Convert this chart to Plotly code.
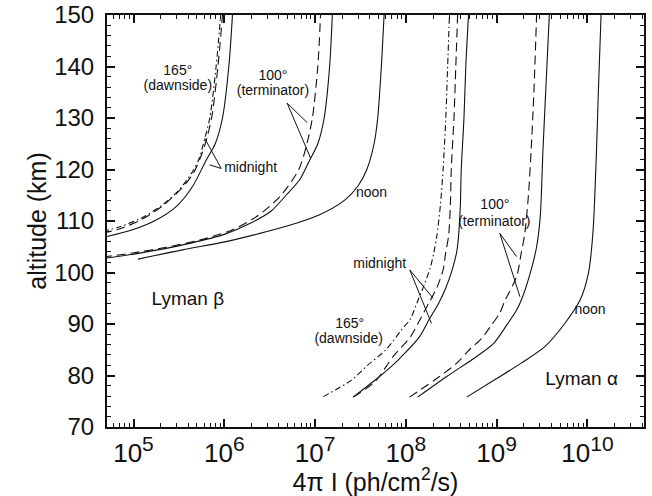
import plotly.graph_objects as go

# ---------------- data (altitude km, log10 of 4*pi*I) ----------------
# Lyman beta
b165_alt = [108.0, 108.9, 110.5, 113.0, 116.0, 119.3, 122.0, 125.0, 130.0, 140.0, 150.0]
b165_lgI = [4.66, 4.85, 5.08, 5.31, 5.50, 5.64, 5.72, 5.77, 5.84, 5.91, 5.96]
bmidA_alt = [107.6, 108.5, 110.2, 112.8, 115.8, 119.0, 122.0, 125.0, 130.0, 140.0, 150.0]
bmidA_lgI = [4.66, 4.85, 5.08, 5.31, 5.50, 5.65, 5.73, 5.79, 5.86, 5.93, 5.98]
bmidB_alt = [106.8, 108.3, 110.2, 112.8, 116.7, 121.8, 125.0, 130.0, 140.0, 150.0]
bmidB_lgI = [4.66, 4.99, 5.25, 5.47, 5.65, 5.80, 5.90, 5.98, 6.05, 6.09]
bterA_alt = [103.0, 103.8, 104.9, 106.3, 108.3, 110.8, 114.7, 120.0, 125.0, 130.0, 140.0, 150.0]
bterA_lgI = [4.66, 4.99, 5.36, 5.73, 6.09, 6.35, 6.61, 6.82, 6.91, 6.97, 7.03, 7.06]
bterB_alt = [102.7, 103.3, 104.4, 105.7, 107.4, 109.5, 112.0, 115.0, 118.0, 121.8, 125.0, 130.0, 140.0, 150.0]
bterB_lgI = [4.66, 4.90, 5.27, 5.63, 6.00, 6.28, 6.52, 6.68, 6.83, 6.94, 7.03, 7.10, 7.16, 7.19]
bnoon_alt = [102.6, 104.4, 106.0, 107.9, 109.6, 111.2, 114.1, 117.0, 120.0, 125.0, 130.0, 140.0, 150.0]
bnoon_lgI = [5.05, 5.54, 6.02, 6.46, 6.80, 7.05, 7.33, 7.48, 7.57, 7.65, 7.69, 7.73, 7.76]

# Lyman alpha
a165_alt = [75.9, 79.1, 82.0, 85.0, 88.8, 91.0, 94.0, 97.5, 101.0, 104.0, 107.0, 113.0, 120.0, 130.0, 140.0, 150.0]
a165_lgI = [7.09, 7.40, 7.58, 7.78, 7.95, 8.05, 8.12, 8.20, 8.27, 8.31, 8.34, 8.38, 8.41, 8.44, 8.46, 8.48]
amidA_alt = [75.8, 78.8, 83.7, 87.5, 90.0, 94.0, 97.0, 100.5, 104.0, 107.0, 113.0, 120.0, 130.0, 140.0, 150.0]
amidA_lgI = [7.42, 7.66, 7.86, 8.05, 8.13, 8.25, 8.34, 8.41, 8.44, 8.47, 8.49, 8.50, 8.53, 8.55, 8.57]
amidB_alt = [75.8, 79.8, 82.4, 84.0, 87.5, 91.0, 94.0, 97.0, 100.5, 104.0, 107.0, 113.0, 120.0, 130.0, 140.0, 150.0]
amidB_lgI = [7.42, 7.71, 7.88, 7.97, 8.15, 8.26, 8.36, 8.44, 8.51, 8.56, 8.58, 8.60, 8.61, 8.64, 8.66, 8.69]
aterA_alt = [75.8, 79.8, 82.4, 85.0, 87.5, 89.5, 92.0, 94.5, 99.2, 103.7, 107.6, 115.0, 123.8, 135.0, 150.0]
aterA_lgI = [8.04, 8.37, 8.56, 8.70, 8.85, 8.93, 9.03, 9.09, 9.22, 9.27, 9.31, 9.35, 9.38, 9.41, 9.44]
aterB_alt = [75.8, 79.8, 83.7, 86.3, 89.5, 92.7, 95.0, 100.5, 105.0, 110.8, 123.8, 135.0, 150.0]
aterB_lgI = [8.13, 8.45, 8.78, 8.97, 9.10, 9.22, 9.28, 9.38, 9.44, 9.48, 9.51, 9.54, 9.58]
anoon_alt = [75.8, 79.4, 82.4, 85.6, 90.1, 94.7, 99.8, 107.6, 123.8, 135.0, 150.0]
anoon_lgI = [8.67, 9.00, 9.27, 9.53, 9.75, 9.92, 10.01, 10.06, 10.10, 10.12, 10.15]

# tick labels
x_tick_exp = [5, 6, 7, 8, 9, 10]
y_ticks = [70, 80, 90, 100, 110, 120, 130, 140, 150]

# label texts: (text, log10 x, altitude)
labels_small = [
    ("165°", 5.488, 139.0),
    ("(dawnside)", 5.488, 136.1),
    ("100°", 6.536, 138.0),
    ("(terminator)", 6.536, 135.1),
    ("midnight", 6.29, 120.2),
    ("noon", 7.621, 115.4),
    ("midnight", 7.712, 101.6),
    ("165°", 7.381, 89.9),
    ("(dawnside)", 7.37, 86.9),
    ("100°", 8.980, 113.0),
    ("(terminator)", 8.975, 109.8),
    ("noon", 10.028, 92.7),
]
labels_big = [
    ("Lyman β", 5.599, 94.7),
    ("Lyman α", 9.936, 79.1),
]
# pointer lines: (apex lgx, apex alt, target lgx, target alt)
pointers = [
    (5.966, 120.2, 5.783, 126.1), (5.966, 120.2, 5.838, 120.9),
    (6.692, 132.9, 6.913, 129.1), (6.692, 132.9, 6.951, 122.2),
    (8.043, 100.5, 8.300, 95.0), (8.043, 100.5, 8.282, 90.1),
    (9.035, 107.6, 9.219, 103.1), (9.035, 107.6, 9.256, 95.3),
]

FONT = "Liberation Sans, Arial, Helvetica, sans-serif"
INK = "#111"
fig = go.Figure()

curves = [
    (b165_lgI, b165_alt, "6px,3px,1.5px,3px"),
    (bmidA_lgI, bmidA_alt, "9px,5px"),
    (bmidB_lgI, bmidB_alt, "solid"),
    (bterA_lgI, bterA_alt, "9px,5px"),
    (bterB_lgI, bterB_alt, "solid"),
    (bnoon_lgI, bnoon_alt, "solid"),
    (a165_lgI, a165_alt, "6px,3px,1.5px,3px"),
    (amidA_lgI, amidA_alt, "9px,5px"),
    (amidB_lgI, amidB_alt, "solid"),
    (aterA_lgI, aterA_alt, "9px,5px"),
    (aterB_lgI, aterB_alt, "solid"),
    (anoon_lgI, anoon_alt, "solid"),
]
for lg, alt, dash in curves:
    fig.add_trace(go.Scatter(
        x=[10 ** v for v in lg], y=alt, mode="lines",
        line=dict(color=INK, width=1.1, dash=dash, shape="spline", smoothing=0.8),
        showlegend=False, hoverinfo="skip"))

for x0, y0, x1, y1 in pointers:
    fig.add_trace(go.Scatter(
        x=[10 ** x0, 10 ** x1], y=[y0, y1], mode="lines",
        line=dict(color=INK, width=1), showlegend=False, hoverinfo="skip"))

for group, size in ((labels_small, 14), (labels_big, 19)):
    fig.add_trace(go.Scatter(
        x=[10 ** g[1] for g in group], y=[g[2] for g in group],
        text=[g[0] for g in group], mode="text", textposition="middle center",
        textfont=dict(family=FONT, size=size, color=INK),
        showlegend=False, hoverinfo="skip", cliponaxis=False))

minor_vals = [k * 10 ** e for e in range(4, 11) for k in range(2, 10)]

fig.update_xaxes(
    type="log", range=[4.708, 10.623], automargin=False,
    tickvals=[10 ** e for e in x_tick_exp],
    ticktext=[f'10<sup><span style="font-size:21px">{e}</span></sup>' for e in x_tick_exp],
    ticks="inside", ticklen=8, tickwidth=1.5, tickcolor=INK,
    showline=True, linewidth=2, linecolor=INK, mirror="allticks",
    showgrid=False, zeroline=False,
    tickfont=dict(family=FONT, size=26, color=INK),
    ticklabelstandoff=2,
    minor=dict(tickvals=minor_vals, ticks="inside", ticklen=4, tickwidth=1.2,
               tickcolor=INK, showgrid=False),
    title=dict(text="4π I (ph/cm<sup>2</sup>/s)", font=dict(family=FONT, size=25, color=INK),
               standoff=2),
)
fig.update_yaxes(
    range=[70, 150], tickvals=y_ticks, automargin=False,
    ticks="inside", ticklen=8, tickwidth=1.5, tickcolor=INK,
    showline=True, linewidth=2, linecolor=INK, mirror="allticks",
    showgrid=False, zeroline=False,
    tickfont=dict(family=FONT, size=24, color=INK),
    ticklabelstandoff=6,
    minor=dict(dtick=2, ticks="inside", ticklen=4, tickwidth=1.2, tickcolor=INK, showgrid=False),
    title=dict(text="altitude (km)", font=dict(family=FONT, size=25, color=INK), standoff=0),
)
fig.update_layout(
    width=652, height=496,
    margin=dict(l=107, r=8, t=15, b=69),
    paper_bgcolor="white", plot_bgcolor="white",
    font=dict(family=FONT, color=INK),
)
fig.write_html("out.html")
